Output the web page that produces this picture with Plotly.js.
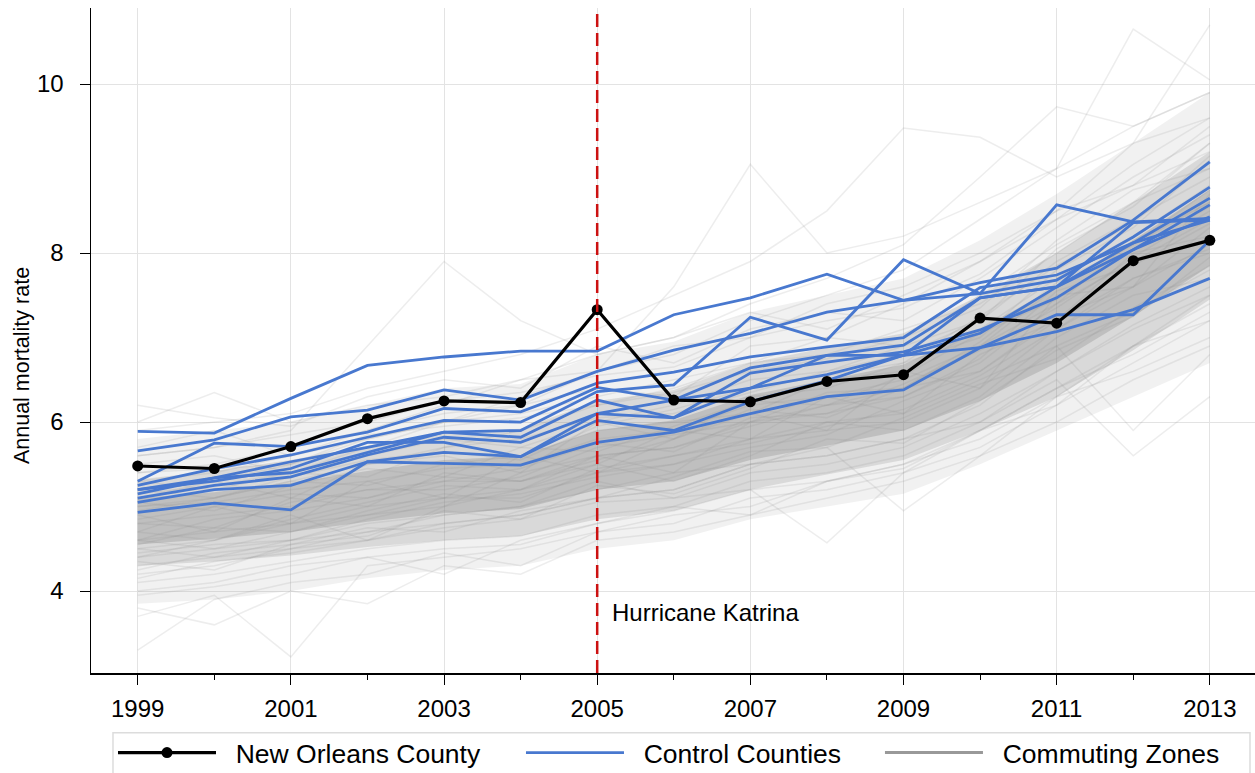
<!DOCTYPE html>
<html>
<head>
<meta charset="utf-8">
<script src="https://cdn.plot.ly/plotly-3.0.1.min.js"></script>
<style>html,body{margin:0;padding:0;background:#fff}#chart{width:1255px;height:773px}</style>
</head>
<body>
<div id="chart"></div>
<script>
// ---------- data ----------
const years = [1999,2000,2001,2002,2003,2004,2005,2006,2007,2008,2009,2010,2011,2012,2013];
const xTickVals = [1999,2001,2003,2005,2007,2009,2011,2013];
const yTickVals = [4,6,8,10];
const katrinaYear = 2005;

const newOrleans = [5.48,5.45,5.71,6.04,6.25,6.23,7.33,6.26,6.24,6.48,6.56,7.23,7.17,7.91,8.15];

const controlA = [5.89,5.87,6.28,6.67,6.77,6.84,6.84,7.27,7.47,7.75,7.44,7.52,7.68,8.19,8.78];
const controlB = [5.20,5.34,5.53,5.70,5.88,5.90,6.36,6.44,7.24,6.97,7.92,7.52,8.57,8.37,8.41];
const controlC = [5.66,5.79,6.06,6.14,6.38,6.26,6.60,6.85,7.05,7.30,7.44,7.65,7.82,8.39,9.08];
const controlD = [5.30,5.75,5.71,5.88,6.16,6.12,6.46,6.59,6.77,6.89,7.00,7.59,7.74,8.12,8.65];
const controlE = [5.25,5.45,5.61,5.82,6.02,6.00,6.41,6.26,6.64,6.79,6.91,7.47,7.60,8.04,8.57];
const controlF = [5.15,5.34,5.40,5.64,5.88,5.82,6.26,6.05,6.58,6.71,6.83,7.09,7.47,8.04,8.43];
const controlG = [5.10,5.25,5.35,5.61,5.82,5.76,6.10,6.26,6.40,6.56,6.79,7.05,7.60,8.12,8.39];
const controlH = [5.05,5.20,5.25,5.53,5.64,5.59,6.02,5.90,6.24,6.49,6.79,6.88,7.27,7.27,8.15];
const controlI = [4.93,5.04,4.96,5.53,5.51,5.49,5.76,5.88,6.10,6.30,6.38,6.88,7.07,7.33,7.70];
const controlJ = [5.20,5.30,5.45,5.76,5.76,5.59,6.10,6.05,6.40,6.79,6.79,7.47,7.60,8.36,8.39];
const controlCounties = [controlA,controlB,controlC,controlD,controlE,controlF,controlG,controlH,controlI,controlJ];

// commuting-zone spread read per year: 2nd, 10th, 25th, 75th, 90th, 98th percentile
const czP02 = [3.85,3.90,4.00,4.15,4.25,4.30,4.50,4.60,4.85,5.00,5.15,5.50,5.90,6.30,6.70];
const czP10 = [4.30,4.35,4.42,4.52,4.60,4.65,4.85,4.95,5.20,5.38,5.55,5.90,6.30,6.85,7.45];
const czP25 = [4.55,4.62,4.70,4.82,4.92,4.97,5.20,5.30,5.55,5.72,5.90,6.25,6.70,7.25,7.85];
const czP75 = [5.10,5.17,5.28,5.42,5.55,5.60,5.90,6.02,6.32,6.50,6.68,7.10,7.60,8.15,8.75];
const czP90 = [5.32,5.42,5.55,5.72,5.88,5.92,6.25,6.38,6.70,6.88,7.05,7.50,8.00,8.60,9.20];
const czP98 = [5.80,5.90,6.00,6.20,6.40,6.45,6.80,6.95,7.30,7.50,7.70,8.15,8.70,9.30,9.90];

// individual commuting zones (visible outliers and typical paths)
const commutingZones = [
  [6.20,6.05,5.95,6.30,6.50,6.40,6.90,6.70,7.10,7.30,7.20,7.70,8.30,8.90,9.40],
  [5.60,5.70,5.90,6.90,7.90,7.20,6.80,7.00,7.30,7.10,7.50,7.90,8.40,8.80,9.20],
  [5.30,5.40,5.60,5.80,6.00,6.30,6.60,7.60,9.05,8.00,8.20,8.60,9.00,9.50,9.90],
  [5.90,6.00,6.10,6.40,6.60,6.80,7.10,7.50,7.90,8.50,9.48,9.37,8.90,9.30,9.60],
  [5.40,5.50,5.70,5.90,6.20,6.50,6.80,7.00,7.40,7.70,8.10,8.90,9.73,9.50,9.90],
  [5.20,5.30,5.50,5.80,6.00,6.20,6.60,6.80,7.20,7.50,7.80,8.40,9.00,10.65,10.05],
  [5.00,5.10,5.30,5.50,5.70,5.90,6.20,6.40,6.70,7.00,7.40,7.90,8.50,9.30,10.70],
  [3.70,3.95,3.22,4.30,4.40,4.50,4.70,4.90,5.00,5.30,5.50,5.80,6.30,6.60,7.00],
  [3.30,3.90,4.10,4.20,4.45,4.30,4.70,4.80,5.10,5.20,5.40,5.90,6.20,6.70,7.20],
  [3.80,3.60,4.00,3.85,4.30,4.20,4.60,4.70,4.90,5.10,5.30,5.60,6.00,6.50,6.90],
  [4.40,4.50,4.60,4.80,4.90,5.00,5.30,5.10,5.20,4.57,5.40,5.70,6.20,6.90,7.40],
  [4.50,4.40,4.60,4.70,4.90,5.00,5.20,5.40,5.50,5.70,4.95,5.60,6.30,6.90,7.50],
  [4.20,4.30,4.50,4.60,4.80,4.90,5.10,5.20,5.50,5.60,5.80,6.00,6.50,5.60,6.30],
  [4.50,4.60,4.80,4.90,5.10,5.20,5.40,5.60,5.80,6.00,6.10,6.50,6.90,5.90,6.80],
  [4.80,4.90,5.00,5.20,5.30,5.30,5.60,5.70,6.00,6.10,6.30,6.70,7.40,7.90,8.40],
  [4.60,4.70,4.80,5.00,5.10,5.10,5.40,5.50,5.80,5.90,6.00,6.40,7.10,7.60,8.10],
  [5.00,5.05,5.20,5.30,5.45,5.50,5.80,5.90,6.20,6.30,6.50,6.90,7.60,8.10,8.60],
  [4.30,4.40,4.50,4.70,4.80,4.90,5.10,5.20,5.50,5.60,5.80,6.20,6.90,7.30,7.80],
  [5.30,5.20,5.40,5.60,5.80,5.70,6.00,6.20,6.50,6.60,6.80,7.20,7.90,8.40,8.90],
  [4.10,4.20,4.35,4.50,4.60,4.65,4.90,5.00,5.30,5.40,5.60,6.00,6.60,7.10,7.50],
  [5.70,5.90,5.60,5.90,6.10,6.20,6.40,6.30,6.90,7.00,6.90,7.50,8.10,8.60,9.00],
  [4.90,4.70,5.10,5.00,5.40,5.30,5.50,5.90,5.80,6.30,6.10,6.80,7.20,8.00,8.20],
  [4.70,5.00,4.80,5.30,5.10,5.60,5.40,5.80,6.10,5.90,6.60,6.40,7.50,7.60,8.70],
  [4.40,4.60,4.90,4.60,5.00,5.20,5.50,5.30,5.60,6.00,5.90,6.30,7.00,7.50,7.70],
  [5.10,5.30,5.10,5.50,5.60,5.40,6.00,5.80,6.30,6.40,6.70,7.00,7.80,8.30,9.10],
  [6.00,6.35,6.00,6.20,6.30,6.50,6.60,6.90,7.00,7.40,7.60,8.00,8.50,8.80,9.50],
  [4.00,4.10,4.30,4.40,4.20,4.60,4.80,5.00,4.90,5.30,5.50,5.90,6.40,6.80,7.30],
  [5.50,5.60,5.40,5.70,6.00,6.10,6.30,6.50,6.70,6.80,7.10,7.40,8.00,8.60,9.30],
  [4.60,4.50,4.70,4.90,5.00,5.40,5.60,5.40,6.00,6.20,6.40,6.60,7.20,7.70,8.00],
  [4.95,5.10,5.30,5.25,5.50,5.60,5.90,6.00,6.10,6.50,6.60,7.10,7.70,8.20,8.80],
  [4.55,4.75,4.70,4.95,5.15,5.05,5.45,5.60,5.75,5.95,6.15,6.55,7.10,7.70,8.05],
  [5.05,4.95,5.25,5.45,5.35,5.70,5.65,5.95,6.25,6.20,6.55,7.05,7.45,8.05,8.55],
  [4.25,4.45,4.55,4.65,4.95,4.85,5.25,5.15,5.45,5.80,5.75,6.25,6.85,7.25,7.95],
  [4.85,5.00,5.15,5.10,5.30,5.45,5.75,5.65,6.05,6.10,6.45,6.85,7.35,7.95,8.50],
  [5.20,5.10,5.35,5.55,5.65,5.55,5.95,6.15,6.40,6.55,6.70,7.25,7.85,8.35,9.15],
  [4.70,4.60,4.85,5.05,5.25,5.20,5.60,5.70,5.95,6.20,6.30,6.75,7.55,7.85,8.35],
  [4.35,4.25,4.55,4.75,4.70,4.95,5.10,5.35,5.65,5.70,6.05,6.45,6.75,7.35,7.85],
  [5.40,5.45,5.50,5.85,5.95,6.05,6.20,6.35,6.60,6.75,7.00,7.35,8.15,8.75,9.00],
  [4.60,4.85,4.95,5.10,5.35,5.30,5.55,5.80,6.15,6.05,6.40,6.95,7.65,8.10,8.75],
  [4.15,4.35,4.45,4.60,4.75,4.85,5.05,5.10,5.40,5.50,5.70,6.10,6.60,7.15,7.60],
  [5.15,5.25,5.40,5.35,5.70,5.80,6.05,6.10,6.35,6.60,6.90,7.20,8.05,8.55,9.30],
  [4.45,4.55,4.60,4.85,5.05,5.15,5.35,5.50,5.70,5.85,6.25,6.60,7.25,7.60,8.30],
  [4.80,4.75,5.05,5.20,5.20,5.35,5.70,5.85,6.00,6.35,6.40,6.90,7.40,8.15,8.60],
  [5.60,5.70,5.85,6.00,6.25,6.35,6.55,6.65,7.00,7.20,7.35,7.75,8.40,9.05,9.60],
  [3.95,4.05,4.20,4.40,4.50,4.55,4.80,4.95,5.20,5.30,5.45,5.90,6.40,6.90,7.20]
];

// ---------- traces ----------
const traces = [];
const bandColor = (a) => 'rgba(125,125,125,' + a + ')';
function band(lo, hi, a) {
  traces.push({x: years, y: lo, mode: 'lines', line: {width: 0, color: bandColor(0)}, showlegend: false, hoverinfo: 'skip'});
  traces.push({x: years, y: hi, mode: 'lines', line: {width: 0, color: bandColor(0)}, fill: 'tonexty', fillcolor: bandColor(a), showlegend: false, hoverinfo: 'skip'});
}
band(czP02, czP98, 0.11);
band(czP10, czP90, 0.2);
band(czP25, czP75, 0.28);

commutingZones.forEach(v => {
  traces.push({x: years, y: v, mode: 'lines', line: {color: 'rgba(140,140,140,0.16)', width: 1.5}, showlegend: false, hoverinfo: 'skip'});
});

controlCounties.forEach((v, i) => {
  traces.push({x: years, y: v, mode: 'lines', name: '\u00a0\u00a0Control Counties', legend: 'legend2', showlegend: i === 0, line: {color: '#4878CF', width: 2.8}});
});

traces.push({x: years, y: newOrleans, mode: 'lines+markers', name: '\u00a0\u00a0New Orleans County', legend: 'legend',
  line: {color: '#000', width: 3.2}, marker: {color: '#000', size: 11}});

traces.push({x: [null], y: [null], mode: 'lines', name: '\u00a0\u00a0Commuting Zones', legend: 'legend3', line: {color: '#999999', width: 3}});

const legendBase = {orientation: 'h', xanchor: 'left', y: -0.084, yanchor: 'top', borderwidth: 0,
  bgcolor: 'rgba(0,0,0,0)', font: {size: 26.5}, itemwidth: 98};

const layout = {
  width: 1255, height: 773,
  margin: {l: 91, r: 0, t: 8, b: 100, autoexpand: false},
  paper_bgcolor: '#fff', plot_bgcolor: '#fff',
  font: {family: 'Liberation Sans, Arial, sans-serif', color: '#000', size: 24},
  xaxis: {
    range: [1998.39, 2013.59], tickvals: xTickVals, ticktext: xTickVals.map(String),
    ticks: 'outside', ticklen: 10, tickwidth: 1, tickcolor: '#000', ticklabelstandoff: 4,
    showline: true, linecolor: '#000', linewidth: 1.5, zeroline: false,
    showgrid: true, gridcolor: '#e3e3e3', gridwidth: 1,
    minor: {dtick: 1, tick0: 1999, ticks: 'outside', ticklen: 5, tickcolor: '#000', showgrid: false},
    tickfont: {size: 24}
  },
  yaxis: {
    range: [3.03, 10.9], tickvals: yTickVals,
    ticks: 'outside', ticklen: 10, tickwidth: 1, tickcolor: '#000', ticklabelstandoff: 11,
    showline: true, linecolor: '#000', linewidth: 1.5, zeroline: false,
    showgrid: true, gridcolor: '#e3e3e3', gridwidth: 1,
    tickfont: {size: 24}
  },
  shapes: [
    {type: 'line', xref: 'x', yref: 'paper', x0: katrinaYear, x1: katrinaYear, y0: 0, y1: 1,
      line: {color: '#CC1111', width: 2.5, dash: '13px,6px'}},
    {type: 'rect', xref: 'paper', yref: 'paper', x0: 0.0189, x1: 0.9957, y0: -0.09, y1: -0.2,
      line: {color: '#dcdcdc', width: 1.5}, fillcolor: 'rgba(0,0,0,0)', layer: 'above'}
  ],
  annotations: [
    {x: katrinaYear + 0.17, y: 3.75, xref: 'x', yref: 'y', text: 'Hurricane Katrina', showarrow: false,
      xanchor: 'left', yanchor: 'middle', font: {size: 24, color: '#000'}},
    {x: -0.0593, y: 0.463, xref: 'paper', yref: 'paper', text: 'Annual mortality rate', showarrow: false,
      textangle: -90, xanchor: 'center', yanchor: 'middle', font: {size: 21.5, color: '#000'}}
  ],
  showlegend: true,
  legend: Object.assign({}, legendBase, {x: 0.0189}),
  legend2: Object.assign({}, legendBase, {x: 0.3694}),
  legend3: Object.assign({}, legendBase, {x: 0.6778})
};

Plotly.newPlot('chart', traces, layout, {displayModeBar: false, staticPlot: true});
</script>
</body>
</html>
